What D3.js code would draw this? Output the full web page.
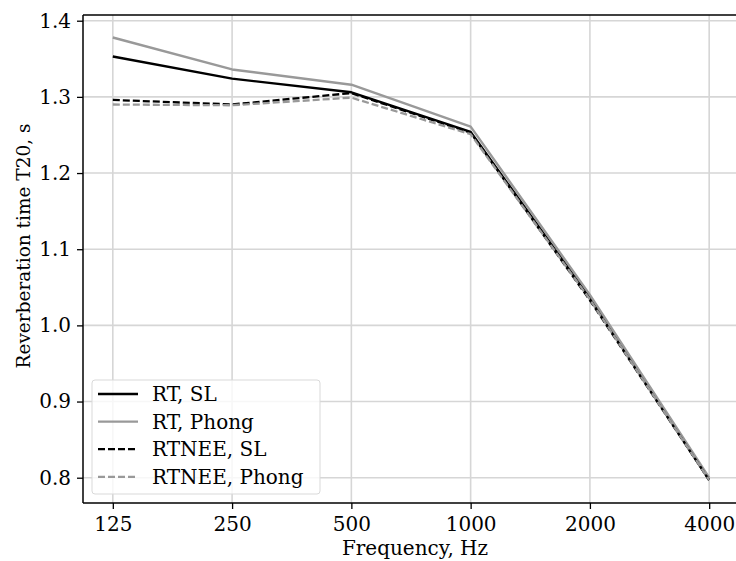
<!DOCTYPE html>
<html><head><meta charset="utf-8">
<script src="https://cdn.jsdelivr.net/npm/d3@7"></script>
<style>body{margin:0;background:#fff}svg{display:block}</style>
</head><body>
<svg id="c" width="736" height="561"></svg>
<script>
const freqs = [125, 250, 500, 1000, 2000, 4000];
const rtSL = [1.353, 1.324, 1.306, 1.254, 1.036, 0.797];
const rtPhong = [1.378, 1.336, 1.316, 1.261, 1.040, 0.800];
const rtneeSL = [1.296, 1.290, 1.305, 1.253, 1.033, 0.797];
const rtneePhong = [1.290, 1.289, 1.299, 1.251, 1.034, 0.797];
const yTicks = [0.8, 0.9, 1.0, 1.1, 1.2, 1.3, 1.4];
const seriesNames = ["RT, SL", "RT, Phong", "RTNEE, SL", "RTNEE, Phong"];

const series = [
  {name: seriesNames[0], values: rtSL, color: "#000", dash: null, w: 2.4},
  {name: seriesNames[1], values: rtPhong, color: "#999", dash: null, w: 2.4},
  {name: seriesNames[2], values: rtneeSL, color: "#000", dash: "7,3", w: 2.3},
  {name: seriesNames[3], values: rtneePhong, color: "#999", dash: "7,3", w: 2.3}
];

const svg = d3.select("#c");
const font = "'DejaVu Serif', serif";
const fs = 20;
const L = 83, R = 739, T = 15, B = 503;
const x = d3.scaleLog().base(2).domain([125 / Math.pow(2, 0.25), 4000 * Math.pow(2, 0.25)]).range([L, R]);
const y = d3.scaleLinear().domain([0.7668, 1.4075]).range([B, T]);

const g = svg.append("g");
// grid
g.selectAll(".gx").data(freqs).enter().append("line")
  .attr("x1", d => x(d)).attr("x2", d => x(d)).attr("y1", T).attr("y2", B)
  .attr("stroke", "#d6d6d6").attr("stroke-width", 1.6);
g.selectAll(".gy").data(yTicks).enter().append("line")
  .attr("x1", L).attr("x2", R).attr("y1", d => y(d)).attr("y2", d => y(d))
  .attr("stroke", "#d6d6d6").attr("stroke-width", 1.6);

// lines
const line = d3.line().x((d, i) => x(freqs[i])).y(d => y(d));
series.forEach(s => {
  g.append("path").datum(s.values).attr("d", line)
    .attr("fill", "none").attr("stroke", s.color).attr("stroke-width", s.w)
    .attr("stroke-dasharray", s.dash).attr("stroke-linejoin", "round");
});

// axes
const xAxis = d3.axisBottom(x).tickValues(freqs).tickFormat(d3.format("d")).tickSizeOuter(0).tickSize(6).tickPadding(8);
const yAxis = d3.axisLeft(y).tickValues(yTicks).tickFormat(d3.format(".1f")).tickSizeOuter(0).tickSize(6).tickPadding(6);
const gx = svg.append("g").attr("transform", `translate(0,${B})`).call(xAxis);
const gy = svg.append("g").attr("transform", `translate(${L},0)`).call(yAxis);
[gx, gy].forEach(a => {
  a.select(".domain").remove();
  a.selectAll(".tick line").attr("stroke", "#000").attr("stroke-width", 1.3);
  a.selectAll(".tick text").attr("font-family", font).attr("font-size", fs).attr("fill", "#000");
});
// spines
svg.append("line").attr("x1", L).attr("x2", L).attr("y1", T).attr("y2", B).attr("stroke", "#000").attr("stroke-width", 1.5);
svg.append("line").attr("x1", L).attr("x2", R).attr("y1", B).attr("y2", B).attr("stroke", "#000").attr("stroke-width", 1.5);
svg.append("line").attr("x1", L).attr("x2", R).attr("y1", T).attr("y2", T).attr("stroke", "#000").attr("stroke-width", 1.5);
svg.append("line").attr("x1", R).attr("x2", R).attr("y1", T).attr("y2", B).attr("stroke", "#000").attr("stroke-width", 1.5);

// axis labels
svg.append("text").attr("x", 415).attr("y", 555).attr("text-anchor", "middle")
  .attr("font-family", font).attr("font-size", fs).text("Frequency, Hz");
svg.append("text").attr("transform", `translate(23,246) rotate(-90)`).attr("text-anchor", "middle")
  .attr("dominant-baseline", "central")
  .attr("font-family", font).attr("font-size", 18.5).text("Reverberation time T20, s");

// legend
const lg = svg.append("g");
lg.append("rect").attr("x", 92).attr("y", 380).attr("width", 228).attr("height", 114).attr("rx", 3)
  .attr("fill", "#fff").attr("fill-opacity", 0.8).attr("stroke", "#d9d9d9").attr("stroke-width", 1);
series.forEach((s, i) => {
  const yy = 394 + i * 27.6;
  lg.append("line").attr("x1", 98).attr("x2", 138).attr("y1", yy).attr("y2", yy)
    .attr("stroke", s.color).attr("stroke-width", s.w).attr("stroke-dasharray", s.dash);
  lg.append("text").attr("x", 152).attr("y", yy).attr("dominant-baseline", "central")
    .attr("font-family", font).attr("font-size", fs).text(s.name);
});
</script>
</body></html>
